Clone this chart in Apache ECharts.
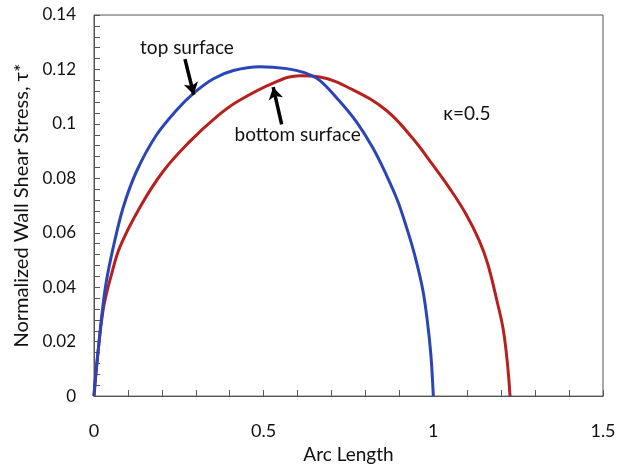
<!DOCTYPE html>
<html>
<head>
<meta charset="utf-8">
<script src="https://cdn.jsdelivr.net/npm/echarts@6/dist/echarts.min.js"></script>
<style>
html,body{margin:0;padding:0;background:#fff;}
#c{width:625px;height:469px;}
</style>
</head>
<body>
<div id="c"></div>
<script>
// Top surface (blue)
var topX = [0, 0.003, 0.0127, 0.0227, 0.0354, 0.057, 0.086, 0.1255, 0.184, 0.243, 0.293, 0.352, 0.411, 0.489, 0.568, 0.620, 0.665, 0.724, 0.773, 0.822, 0.861, 0.895, 0.921, 0.944, 0.969, 0.983, 0.993, 1.0];
var topY = [0, 0.0052, 0.0172, 0.0293, 0.0414, 0.0548, 0.0693, 0.0826, 0.0959, 0.1050, 0.1112, 0.1166, 0.1196, 0.1210, 0.1203, 0.1188, 0.1160, 0.1083, 0.1008, 0.0911, 0.0814, 0.0717, 0.0620, 0.0523, 0.039, 0.0269, 0.0148, 0];
// Bottom surface (red)
var botX = [0, 0.0127, 0.026, 0.037, 0.050, 0.0765, 0.135, 0.204, 0.282, 0.361, 0.424, 0.528, 0.607, 0.665, 0.763, 0.861, 0.939, 0.998, 1.047, 1.096, 1.135, 1.160, 1.189, 1.206, 1.216, 1.222, 1.226];
var botY = [0, 0.0172, 0.031, 0.0378, 0.0440, 0.0548, 0.0693, 0.0826, 0.0935, 0.1026, 0.1083, 0.1150, 0.1177, 0.1172, 0.1125, 0.1050, 0.0947, 0.0850, 0.0765, 0.0669, 0.0572, 0.0487, 0.0342, 0.0245, 0.0148, 0.007, 0];
// Axis settings
var xMin = 0, xMax = 1.5, xStep = 0.5;
var yMin = 0, yMax = 0.14, yStep = 0.02;
// Annotations [text, x, y]
var labelTop = ['top surface', 0.274, 0.1281];
var labelBot = ['bottom surface', 0.600, 0.0960];
var labelK = ['κ=0.5', 1.099, 0.1038];
var arrowTop = [[0.268, 0.1238], [0.294, 0.1107]];
var arrowBot = [[0.553, 0.0998], [0.528, 0.1135]];

function zip(a, b) { return a.map(function (v, i) { return [v, b[i]]; }); }

var FONT = 'Lato';
var TXT = '#111';
var chart = echarts.init(document.getElementById('c'), null, {renderer: 'canvas'});
var axisCol = '#555';
chart.setOption({
  animation: false,
  backgroundColor: '#fff',
  textStyle: {fontFamily: FONT},
  grid: {left: 94, right: 22, top: 15, bottom: 68, show: true, borderColor: axisCol, borderWidth: 1},
  xAxis: {
    type: 'value', min: xMin, max: xMax, interval: xStep,
    name: 'Arc Length', nameLocation: 'middle', nameGap: 46,
    nameTextStyle: {fontFamily: FONT, fontSize: 19, color: TXT},
    axisLine: {lineStyle: {color: axisCol, width: 1}},
    axisTick: {inside: true, length: 6, lineStyle: {color: axisCol}},
    minorTick: {show: true, splitNumber: 5, length: 6, lineStyle: {color: axisCol}},
    splitLine: {show: false},
    axisLabel: {margin: 26, fontFamily: FONT, fontSize: 18, color: TXT}
  },
  yAxis: {
    type: 'value', min: yMin, max: yMax, interval: yStep,
    name: 'Normalized Wall Shear Stress, τ*', nameLocation: 'middle', nameGap: 62,
    nameTextStyle: {fontFamily: FONT, fontSize: 20, color: TXT},
    axisLine: {show: true, lineStyle: {color: axisCol, width: 1}},
    axisTick: {show: true, inside: true, length: 6, lineStyle: {color: axisCol}},
    minorTick: {show: true, splitNumber: 5, length: 6, lineStyle: {color: axisCol}},
    splitLine: {show: false},
    axisLabel: {margin: 18, fontFamily: FONT, fontSize: 17, color: TXT}
  },
  series: [
    {
      type: 'line', name: 'top surface', data: zip(topX, topY), smooth: 0.35,
      showSymbol: false, symbol: 'none', lineStyle: {color: '#2a45b8', width: 3}, z: 3
    },
    {
      type: 'line', name: 'bottom surface', data: zip(botX, botY), smooth: 0.4,
      showSymbol: false, symbol: 'none', lineStyle: {color: '#b8201e', width: 3}, z: 2,
      markLine: {
        silent: true, symbol: ['none', 'arrow'], symbolSize: [11, 12],
        label: {show: false},
        lineStyle: {color: '#000', width: 3.5, type: 'solid'},
        data: [
          [{coord: arrowTop[0], lineStyle: {curveness: 0.4}}, {coord: arrowTop[1]}],
          [{coord: arrowBot[0], lineStyle: {curveness: 0.4}}, {coord: arrowBot[1]}]
        ]
      }
    }
  ]
});

function txt(item) {
  var p = chart.convertToPixel({gridIndex: 0}, [item[1], item[2]]);
  return {
    type: 'text', x: p[0], y: p[1], z: 10,
    style: {text: item[0], fontFamily: FONT, fontSize: 19, fill: TXT, align: 'center', verticalAlign: 'middle'}
  };
}
chart.setOption({graphic: [txt(labelTop), txt(labelBot), txt(labelK)]});
</script>
</body>
</html>
